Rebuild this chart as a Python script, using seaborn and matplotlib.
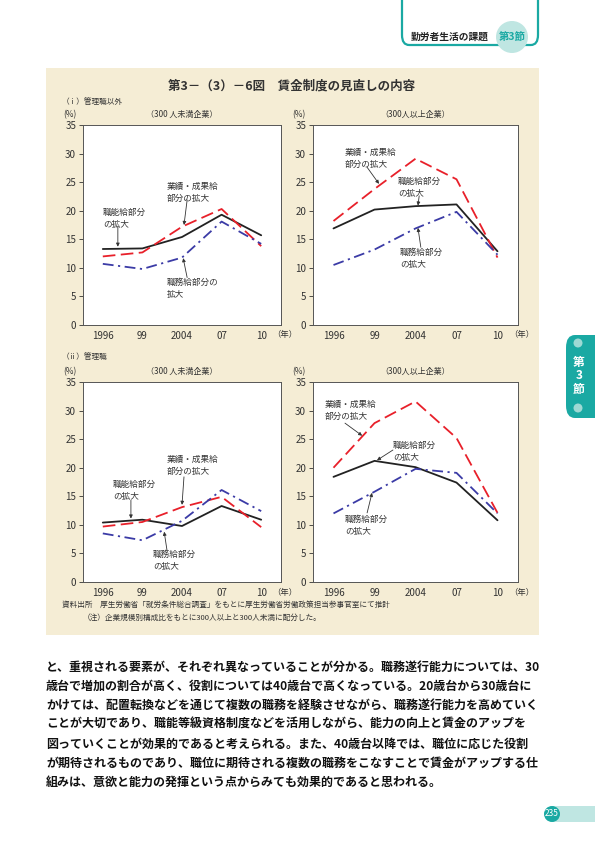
import numpy as np
import pandas as pd
import matplotlib.pyplot as plt
import seaborn as sns
from matplotlib.patches import FancyBboxPatch, Ellipse, Rectangle

# データ
years = ["1996", "99", "2004", "07", "10"]
series_names = ["職能給部分の拡大", "業績・成果給部分の拡大", "職務給部分の拡大"]

# (i) 管理職以外
non_mgr_small_shokuno = [13.3, 13.4, 15.4, 19.3, 15.7]
non_mgr_small_gyoseki = [12.0, 12.7, 17.2, 20.3, 13.8]
non_mgr_small_shokumu = [10.7, 9.8, 11.8, 18.1, 14.2]
non_mgr_large_shokuno = [16.9, 20.2, 20.8, 21.1, 12.9]
non_mgr_large_gyoseki = [18.2, 23.8, 29.1, 25.5, 11.8]
non_mgr_large_shokumu = [10.5, 13.2, 16.9, 19.8, 12.3]
# (ii) 管理職
mgr_small_shokuno = [10.4, 10.9, 9.8, 13.3, 10.9]
mgr_small_gyoseki = [9.7, 10.5, 13.1, 14.9, 9.6]
mgr_small_shokumu = [8.5, 7.3, 10.7, 16.1, 12.4]
mgr_large_shokuno = [18.4, 21.2, 20.1, 17.4, 10.8]
mgr_large_gyoseki = [20.0, 27.8, 31.6, 25.2, 12.1]
mgr_large_shokumu = [12.0, 15.8, 19.8, 19.1, 12.0]

panels = [
    ("tl", "（300 人未満企業）", [non_mgr_small_shokuno, non_mgr_small_gyoseki, non_mgr_small_shokumu]),
    ("tr", "（300人以上企業）", [non_mgr_large_shokuno, non_mgr_large_gyoseki, non_mgr_large_shokumu]),
    ("bl", "（300 人未満企業）", [mgr_small_shokuno, mgr_small_gyoseki, mgr_small_shokumu]),
    ("br", "（300人以上企業）", [mgr_large_shokuno, mgr_large_gyoseki, mgr_large_shokumu]),
]

body_lines = [
    "と、重視される要素が、それぞれ異なっていることが分かる。職務遂行能力については、30",
    "歳台で増加の割合が高く、役割については40歳台で高くなっている。20歳台から30歳台に",
    "かけては、配置転換などを通じて複数の職務を経験させながら、職務遂行能力を高めていく",
    "ことが大切であり、職能等級資格制度などを活用しながら、能力の向上と賃金のアップを",
    "図っていくことが効果的であると考えられる。また、40歳台以降では、職位に応じた役割",
    "が期待されるものであり、職位に期待される複数の職務をこなすことで賃金がアップする仕",
    "組みは、意欲と能力の発揮という点からみても効果的であると思われる。",
]

sns.set_style("white")
plt.rcParams['font.family'] = ['Noto Sans CJK JP', 'DejaVu Sans']

W, H = 595, 842
fig = plt.figure(figsize=(W / 100, H / 100), dpi=100)
fig.patch.set_facecolor("white")

def fx(px):
    return px / W

def fy(py):
    return 1 - py / H

def dot(cx, cy, r, color, z=2):
    # 図座標で真円になるように楕円で描く
    fig.patches.append(Ellipse((fx(cx), fy(cy)), 2 * r / W, 2 * r / H, transform=fig.transFigure,
                               facecolor=color, edgecolor="none", zorder=z))

TXT = "#333333"
TEAL = "#1aa9a3"
LTEAL = "#bfe6e2"

# ベージュの枠
fig.patches.append(Rectangle((fx(46), fy(635)), fx(539) - fx(46), fy(68) - fy(635),
                             transform=fig.transFigure, facecolor="#f5edd5", edgecolor="none", zorder=-5))

# 右上の見出し
fig.patches.append(FancyBboxPatch((fx(402), fy(45)), fx(538) - fx(402), fy(-20) - fy(45),
                                  boxstyle="round,pad=0,rounding_size=0.012", transform=fig.transFigure,
                                  facecolor="white", edgecolor=TEAL, lw=1.6, zorder=1))
dot(512, 37, 16, LTEAL)
fig.text(fx(411), fy(37), "勤労者生活の課題", fontsize=7, fontweight="bold", color="#222222", va="center", zorder=3)
fig.text(fx(512), fy(37), "第3節", fontsize=7.5, fontweight="bold", color=TEAL, ha="center", va="center", zorder=3)

# 右端のタブ
fig.patches.append(FancyBboxPatch((fx(566), fy(418)), fx(610) - fx(566), fy(335) - fy(418),
                                  boxstyle="round,pad=0,rounding_size=0.015", transform=fig.transFigure,
                                  facecolor=TEAL, edgecolor="none", zorder=1))
for dy in (343, 408):
    dot(578, dy, 4.5, "#9ed9d4")
fig.text(fx(579), fy(376), "第\n3\n節", fontsize=8.5, fontweight="bold", color="white",
         ha="center", va="center", linespacing=1.05)

# ページ番号
fig.patches.append(Rectangle((fx(552), fy(822)), fx(595) - fx(552), fy(806) - fy(822),
                             transform=fig.transFigure, facecolor=LTEAL, edgecolor="none", zorder=1))
dot(552, 814, 8, TEAL)
fig.text(fx(552), fy(814), "235", fontsize=6, color="white", ha="center", va="center")

# タイトル・ラベル
fig.text(fx(292), fy(86), "第3－（3）－6図　賃金制度の見直しの内容", fontsize=9, fontweight="bold",
         color=TXT, ha="center", va="center")
fig.text(fx(62), fy(102), "（ⅰ）管理職以外", fontsize=5.5, color=TXT, va="center")
fig.text(fx(62), fy(357), "（ⅱ）管理職", fontsize=5.5, color=TXT, va="center")
fig.text(fx(62), fy(605), "資料出所　厚生労働省「就労条件総合調査」をもとに厚生労働省労働政策担当参事官室にて推計",
         fontsize=5.5, color=TXT, va="center")
fig.text(fx(83), fy(618), "（注）企業規模別構成比をもとに300人以上と300人未満に配分した。",
         fontsize=5.5, color=TXT, va="center")

for k, line in enumerate(body_lines):
    fig.text(fx(46), fy(667 + k * 19.2), line, fontsize=8.65, fontweight="bold", color="#111111", va="center")

axes_px = {
    "tl": (83, 281, 125, 325),
    "tr": (313, 518, 125, 325),
    "bl": (83, 281, 382, 582),
    "br": (313, 518, 382, 582),
}

# 注記の位置 (テキスト位置, 矢印の始点, 矢印の先端) — データ座標
notes = {
    "tl": [((1.62, 25.0), (2.13, 21.9), (2.05, 17.5), "業績・成果給\n部分の拡大"),
           ((0.0, 20.5), (0.38, 17.2), (0.38, 13.7), "職能給部分\nの拡大"),
           ((1.62, 8.3), (2.13, 8.3), (2.03, 11.7), "職務給部分の\n拡大")],
    "tr": [((0.28, 31.0), (0.82, 27.6), (1.11, 24.7), "業績・成果給\n部分の拡大"),
           ((1.57, 25.9), (2.09, 22.6), (2.06, 20.9), "職能給部分\nの拡大"),
           ((1.62, 13.5), (2.13, 13.6), (2.06, 17.0), "職務給部分\nの拡大")],
    "bl": [((1.6, 22.2), (2.05, 18.4), (2.0, 13.5), "業績・成果給\n部分の拡大"),
           ((0.26, 17.9), (0.71, 14.3), (0.71, 11.1), "職能給部分\nの拡大"),
           ((1.27, 5.6), (1.62, 5.6), (1.55, 8.8), "職務給部分\nの拡大")],
    "br": [((-0.21, 31.9), (0.28, 27.8), (0.7, 25.6), "業績・成果給\n部分の拡大"),
           ((1.45, 24.7), (1.45, 23.1), (1.06, 21.3), "職能給部分\nの拡大"),
           ((0.28, 11.7), (0.82, 12.1), (0.94, 15.6), "職務給部分\nの拡大")],
}

palette = {series_names[0]: "#222222", series_names[1]: "#e8202a", series_names[2]: "#3b3ba6"}
dashes = {series_names[0]: "", series_names[1]: (7, 3), series_names[2]: (6, 2.5, 1.2, 2.5)}

for key, subtitle, vals in panels:
    x0, x1, y0, y1 = axes_px[key]
    ax = fig.add_axes([fx(x0), fy(y1), fx(x1) - fx(x0), fy(y0) - fy(y1)])
    ax.set_facecolor("white")
    rows = []
    for name, v in zip(series_names, vals):
        for i, (yr, val) in enumerate(zip(years, v)):
            rows.append({"pos": i, "year": yr, "series": name, "value": val})
    df = pd.DataFrame(rows)
    sns.lineplot(data=df, x="pos", y="value", hue="series", style="series", palette=palette,
                 dashes=dashes, linewidth=1.3, legend=False, ax=ax, sort=False)
    ax.set_xlim(-0.5, 4.5)
    ax.set_ylim(0, 35)
    ax.set_xticks(range(len(years)))
    ax.set_xticklabels(years)
    ax.set_yticks(range(0, 36, 5))
    ax.set_xlabel("")
    ax.set_ylabel("")
    ax.tick_params(axis="x", length=0, pad=4, labelsize=7, colors=TXT)
    ax.tick_params(axis="y", length=3, width=0.6, direction="out", pad=2, labelsize=7, colors=TXT, left=True)
    for s in ax.spines.values():
        s.set_color("#555555")
        s.set_linewidth(0.7)
    ax.text(0.5, 1.03, subtitle, transform=ax.transAxes, fontsize=5.8, color=TXT, ha="center", va="bottom")
    ax.text(-0.1, 1.03, "(%)", transform=ax.transAxes, fontsize=6, color=TXT, ha="left", va="bottom")
    ax.text(1.02, -0.05, "（年）", transform=ax.transAxes, fontsize=6, color=TXT, ha="center", va="center")
    for (tx, ty), tail, tip, label in notes[key]:
        ax.text(tx, ty, label, fontsize=6.2, color=TXT, ha="left", va="top", linespacing=1.45)
        ax.annotate("", xy=tip, xytext=tail,
                    arrowprops=dict(arrowstyle="-|>", color="#333333", lw=0.6, mutation_scale=5,
                                    shrinkA=0, shrinkB=0))

fig.savefig("out.png", dpi=100)
